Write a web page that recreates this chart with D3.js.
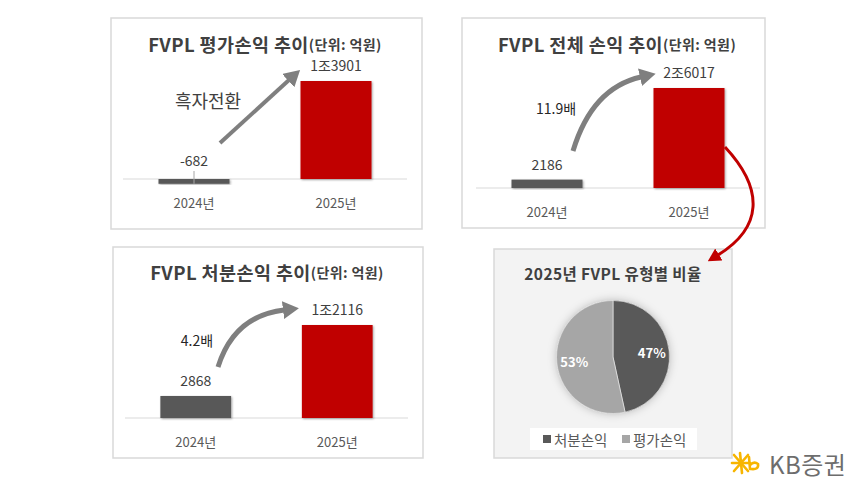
<!DOCTYPE html>
<html>
<head>
<meta charset="utf-8">
<script src="https://cdn.jsdelivr.net/npm/d3@7"></script>
<style>
  html, body { margin: 0; padding: 0; background: #fff; }
  svg { display: block; font-family: "Noto Sans CJK KR", "Noto Sans", sans-serif; }
</style>
</head>
<body>
<div id="chart"></div>
<script>
// data (억원)
var years = ["2024년", "2025년"];
var evalValues = [-682, 13901];
var evalLabels = ["-682", "1조3901"];
var totalValues = [2186, 26017];
var totalLabels = ["2186", "2조6017"];
var dispValues = [2868, 12116];
var dispLabels = ["2868", "1조2116"];
var pieNames = ["처분손익", "평가손익"];
var pieValues = [12116, 13901];
var pieLabels = ["47%", "53%"];

var W = 860, H = 482;
var svg = d3.select("#chart").append("svg")
    .attr("width", W).attr("height", H);

var defs = svg.append("defs");
var shadow = defs.append("filter").attr("id", "shadow")
    .attr("x", "-20%").attr("y", "-20%").attr("width", "140%").attr("height", "140%");
shadow.append("feDropShadow").attr("dx", 1).attr("dy", 1).attr("stdDeviation", 1.2)
    .attr("flood-color", "#000").attr("flood-opacity", 0.35);
var soft = defs.append("filter").attr("id", "soft")
    .attr("x", "-30%").attr("y", "-30%").attr("width", "160%").attr("height", "160%");
soft.append("feDropShadow").attr("dx", 0).attr("dy", 0).attr("stdDeviation", 4)
    .attr("flood-color", "#000").attr("flood-opacity", 0.25);

function marker(id, color, len, wid) {
  defs.append("marker").attr("id", id)
    .attr("markerUnits", "userSpaceOnUse")
    .attr("viewBox", "0 0 " + len + " " + wid)
    .attr("refX", 1).attr("refY", wid / 2)
    .attr("markerWidth", len).attr("markerHeight", wid)
    .attr("orient", "auto")
    .append("path")
    .attr("d", "M0,0 L" + len + "," + wid / 2 + " L0," + wid + " z")
    .attr("fill", color);
}
marker("grayHead", "#7f7f7f", 16, 18);
marker("redHead", "#c00000", 13, 14);

function panel(x, y, w, h, fill) {
  svg.append("rect")
    .attr("x", x).attr("y", y).attr("width", w).attr("height", h)
    .attr("fill", fill).attr("stroke", "#d9d9d9").attr("stroke-width", 1.5);
}

function title(cx, cy, main, unit, size) {
  var t = svg.append("text").attr("x", cx).attr("y", cy)
    .attr("text-anchor", "middle").attr("dominant-baseline", "central")
    .attr("fill", "#404040").attr("letter-spacing", 0.4);
  t.append("tspan").attr("font-size", size).attr("font-weight", "bold").text(main);
  if (unit) t.append("tspan").attr("font-size", 14).attr("font-weight", "bold").text(unit);
}

// one bar panel: axis line at axisY, x from x0 to x1, barH = pixels for the max value
function barChart(cfg) {
  var x = d3.scaleBand().domain(years).range([cfg.x0, cfg.x1])
      .paddingInner(0.5).paddingOuter(0.25);
  var y = d3.scaleLinear().domain([0, d3.max(cfg.values)])
      .range([cfg.axisY, cfg.axisY - cfg.barH]);
  var g = svg.append("g");

  g.append("line")
    .attr("x1", cfg.x0).attr("x2", cfg.x1)
    .attr("y1", cfg.axisY).attr("y2", cfg.axisY)
    .attr("stroke", "#d9d9d9").attr("stroke-width", 1.2);

  g.selectAll("rect.bar").data(cfg.values).enter().append("rect")
    .attr("class", "bar")
    .attr("x", function(d, i) { return x(years[i]); })
    .attr("width", x.bandwidth())
    .attr("y", function(d) { return Math.min(y(d), y(0)); })
    .attr("height", function(d) { return Math.abs(y(d) - y(0)); })
    .attr("fill", function(d, i) { return i === 0 ? "#595959" : "#c00000"; })
    .attr("filter", "url(#shadow)");

  g.selectAll("text.val").data(cfg.values).enter().append("text")
    .attr("class", "val")
    .attr("x", function(d, i) { return x(years[i]) + x.bandwidth() / 2; })
    .attr("y", function(d) { return d < 0 ? y(0) - 19 : y(d) - 16; })
    .attr("text-anchor", "middle").attr("dominant-baseline", "central")
    .attr("font-size", 14).attr("fill", "#404040")
    .text(function(d, i) { return cfg.labels[i]; });

  // leader line for a negative value
  cfg.values.forEach(function(d, i) {
    if (d < 0) {
      var cx = x(years[i]) + x.bandwidth() / 2;
      g.append("line").attr("x1", cx).attr("x2", cx)
        .attr("y1", y(0) - 8).attr("y2", y(d))
        .attr("stroke", "#a6a6a6").attr("stroke-width", 1);
    }
  });

  g.selectAll("text.cat").data(years).enter().append("text")
    .attr("class", "cat")
    .attr("x", function(d) { return x(d) + x.bandwidth() / 2; })
    .attr("y", cfg.axisY + 23)
    .attr("text-anchor", "middle").attr("dominant-baseline", "central")
    .attr("font-size", 13).attr("fill", "#595959")
    .text(function(d) { return d; });

  return { x: x, y: y };
}

// panels
panel(111, 18, 311, 211, "#fff");
panel(462, 18, 303, 210, "#fff");
panel(113, 247, 310, 211, "#fff");
panel(494, 249, 238, 209, "#f3f3f3");

// top-left: 평가손익
title(265, 44, "FVPL 평가손익 추이", "(단위: 억원)", 18.5);
barChart({ values: evalValues, labels: evalLabels, x0: 123, x1: 407, axisY: 179, barH: 98 });
svg.append("path")
  .attr("d", "M220,143 L289,80")
  .attr("fill", "none").attr("stroke", "#7f7f7f").attr("stroke-width", 4)
  .attr("marker-end", "url(#grayHead)");
svg.append("text").attr("x", 208).attr("y", 100)
  .attr("text-anchor", "middle").attr("dominant-baseline", "central")
  .attr("font-size", 18).attr("fill", "#404040").text("흑자전환");

// top-right: 전체 손익
title(617, 44, "FVPL 전체 손익 추이", "(단위: 억원)", 18.5);
barChart({ values: totalValues, labels: totalLabels, x0: 476, x1: 760, axisY: 188, barH: 100 });
svg.append("path")
  .attr("d", "M573,151 Q592,88 641,77")
  .attr("fill", "none").attr("stroke", "#7f7f7f").attr("stroke-width", 5)
  .attr("marker-end", "url(#grayHead)");
svg.append("text").attr("x", 556).attr("y", 108)
  .attr("text-anchor", "middle").attr("dominant-baseline", "central")
  .attr("font-size", 14).attr("fill", "#262626").text("11.9배");

// bottom-left: 처분손익
title(267, 272, "FVPL 처분손익 추이", "(단위: 억원)", 18.5);
barChart({ values: dispValues, labels: dispLabels, x0: 125, x1: 408, axisY: 418, barH: 93 });
svg.append("path")
  .attr("d", "M218,367 Q234,316 284,310")
  .attr("fill", "none").attr("stroke", "#7f7f7f").attr("stroke-width", 5)
  .attr("marker-end", "url(#grayHead)");
svg.append("text").attr("x", 197).attr("y", 340)
  .attr("text-anchor", "middle").attr("dominant-baseline", "central")
  .attr("font-size", 14).attr("fill", "#262626").text("4.2배");

// red arrow from total bar down to the pie panel
svg.append("path")
  .attr("d", "M725,147 C765,190 762,228 718,255")
  .attr("fill", "none").attr("stroke", "#c00000").attr("stroke-width", 3)
  .attr("marker-end", "url(#redHead)");

// pie
title(613, 273, "2025년 FVPL 유형별 비율", null, 15.5);
var pieColor = d3.scaleOrdinal().domain(pieNames).range(["#595959", "#a6a6a6"]);
var pie = d3.pie().sort(null).value(function(d) { return d; });
var arcs = pie(pieValues);
var r = 56.5;
var arc = d3.arc().innerRadius(0).outerRadius(r);
var labelArc = d3.arc().innerRadius(39).outerRadius(39);
var pg = svg.append("g").attr("transform", "translate(613,357)");
pg.append("circle").attr("r", r).attr("fill", "#a6a6a6").attr("filter", "url(#soft)");
pg.selectAll("path").data(arcs).enter().append("path")
  .attr("d", arc)
  .attr("fill", function(d, i) { return pieColor(pieNames[i]); })
  .attr("stroke", "#f3f3f3").attr("stroke-width", 0.6);
pg.selectAll("text").data(arcs).enter().append("text")
  .attr("transform", function(d) { return "translate(" + labelArc.centroid(d) + ")"; })
  .attr("text-anchor", "middle").attr("dominant-baseline", "central")
  .attr("font-size", 13).attr("font-weight", "bold").attr("fill", "#fff")
  .text(function(d, i) { return pieLabels[i]; });

// legend
svg.append("rect").attr("x", 530).attr("y", 428).attr("width", 167).attr("height", 22)
  .attr("fill", "#fff");
var lg = svg.append("g").selectAll("g").data(pieNames).enter().append("g")
  .attr("transform", function(d, i) { return "translate(" + (543 + i * 79) + ",439)"; });
lg.append("rect").attr("x", 0).attr("y", -4).attr("width", 8).attr("height", 8)
  .attr("fill", function(d) { return pieColor(d); });
lg.append("text").attr("x", 11).attr("y", 0).attr("dominant-baseline", "central")
  .attr("font-size", 14.5).attr("fill", "#595959")
  .text(function(d) { return d; });

// KB증권 logo
var logo = svg.append("g").attr("transform", "translate(741,463)");
logo.selectAll("line").data([[-9, 0, 9, 0], [-7, -8, 7, 8], [-7, 8, 7, -8], [-1, -10, 1, 10]])
  .enter().append("line")
  .attr("x1", function(d) { return d[0]; }).attr("y1", function(d) { return d[1]; })
  .attr("x2", function(d) { return d[2]; }).attr("y2", function(d) { return d[3]; })
  .attr("stroke", "#f7b500").attr("stroke-width", 2.6).attr("stroke-linecap", "round");
logo.append("path")
  .attr("d", "M8,-6 L9,6 M9,2 Q13,-2 17,1 Q18,7 10,6")
  .attr("fill", "none").attr("stroke", "#f7b500").attr("stroke-width", 2.6)
  .attr("stroke-linecap", "round");
svg.append("text").attr("x", 769).attr("y", 463)
  .attr("dominant-baseline", "central")
  .attr("font-size", 24).attr("fill", "#6d6d6d").attr("letter-spacing", 0.5)
  .text("KB증권");
</script>
</body>
</html>
